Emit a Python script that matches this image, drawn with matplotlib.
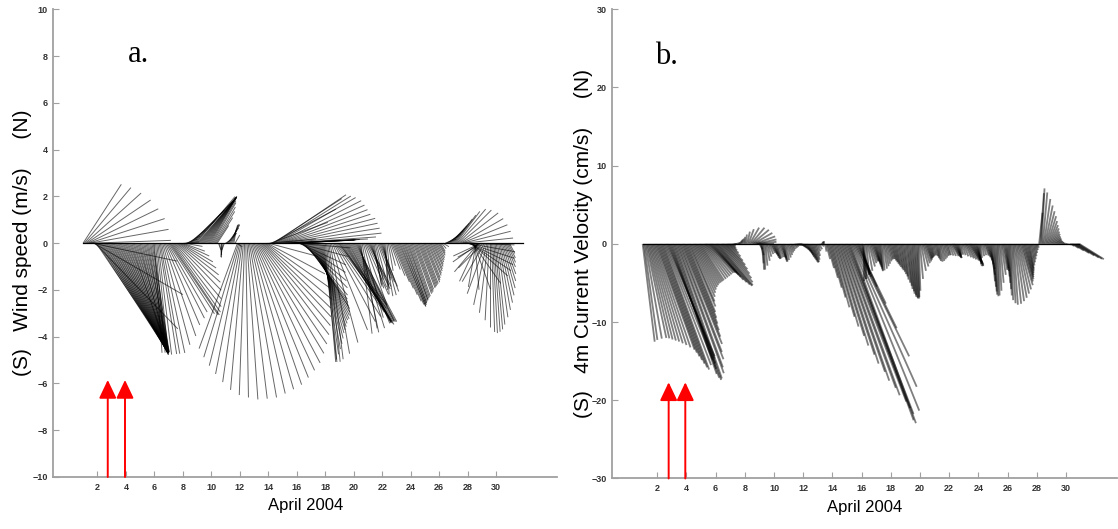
import numpy as np
import matplotlib
matplotlib.use("Agg")
import matplotlib.pyplot as plt
from matplotlib.collections import LineCollection

# two-hourly records, one row per day, 1-30 April 2004
# direction = where the vector points, degrees counter-clockwise from east

wind_speed = [  # m/s
    [3.0, 3.1, 3.2, 3.3, 3.35, 3.4, 3.4, 3.4, 3.7, 4.4, 5.1, 5.6],
    [5.6, 5.5, 5.5, 5.5, 5.4, 5.4, 5.4, 5.4, 5.3, 5.3, 5.3, 5.3],
    [5.2, 5.1, 5.3, 5.2, 5.0, 5.1, 5.2, 4.9, 5.1, 5.0, 4.8, 5.0],
    [5.0, 4.9, 5.0, 4.9, 4.9, 4.8, 4.9, 4.9, 4.8, 4.9, 4.8, 4.8],
    [4.8, 4.8, 4.8, 4.8, 4.7, 4.7, 4.7, 4.7, 4.7, 4.7, 4.7, 4.7],
    [4.7, 4.7, 4.8, 4.8, 4.8, 4.8, 4.8, 4.5, 4.2, 3.8, 3.6, 3.4],
    [3.6, 3.7, 3.7, 3.6, 3.4, 3.1, 2.8, 2.5, 2.2, 1.9, 1.6, 1.3],
    [1.0, 0.8, 0.6, 0.5, 0.6, 0.9, 1.4, 2.0, 2.5, 2.7, 2.7, 2.6],
    [2.5, 2.5, 2.5, 2.5, 2.4, 2.4, 2.4, 2.3, 2.3, 2.3, 2.3, 2.2],
    [2.1, 2.0, 1.8, 1.6, 1.3, 0.9, 0.3, 0.5, 0.6, 0.6, 0.5, 0.3],
    [0.3, 0.6, 0.8, 0.9, 0.9, 0.85, 0.8, 0.6, 0.4, 0.3, 4.8, 5.1],
    [5.4, 5.7, 6.0, 6.3, 6.5, 6.6, 6.7, 6.7, 6.7, 6.6, 6.5, 6.4],
    [6.2, 6.0, 5.8, 5.5, 5.2, 4.9, 4.6, 4.3, 4.0, 3.7, 3.3, 2.8],
    [2.2, 2.0, 2.6, 3.1, 3.5, 3.7, 3.8, 3.9, 4.0, 4.0, 4.0, 4.0],
    [4.1, 4.1, 4.1, 4.1, 3.8, 3.4, 3.0, 2.8, 2.7, 2.6, 2.6, 2.5],
    [2.3, 2.2, 2.2, 2.3, 2.5, 2.7, 2.9, 3.0, 3.1, 3.2, 3.3, 3.4],
    [3.5, 3.6, 3.6, 3.7, 3.8, 3.9, 4.0, 4.2, 4.4, 4.6, 4.8, 5.0],
    [5.1, 5.1, 5.1, 5.0, 4.8, 4.4, 4.0, 3.8, 3.7, 3.6, 3.5, 3.4],
    [3.6, 3.8, 4.0, 4.1, 4.0, 3.9, 3.9, 3.8, 3.8, 3.8, 3.8, 3.8],
    [3.8, 3.8, 3.7, 3.7, 3.8, 3.9, 3.9, 3.7, 3.3, 2.8, 2.4, 2.2],
    [2.1, 2.0, 2.0, 2.0, 1.9, 1.8, 1.6, 1.5, 1.6, 1.8, 2.0, 2.2],
    [2.3, 2.3, 2.2, 2.0, 1.6, 1.2, 1.0, 1.2, 1.5, 1.8, 2.1, 2.4],
    [2.7, 2.85, 2.95, 2.9, 2.85, 2.8, 2.75, 2.7, 2.65, 2.6, 2.55, 2.5],
    [2.45, 2.4, 2.3, 2.25, 2.2, 2.1, 2.05, 2.0, 1.95, 1.9, 1.85, 1.8],
    [1.7, 1.6, 1.5, 1.4, 1.3, 1.2, 1.1, 1.0, 0.9, 0.8, 0.7, 0.6],
    [0.5, 0.4, 0.3, 0.3, 0.4, 0.5, 0.6, 0.7, 0.8, 0.9, 1.0, 1.1],
    [1.3, 1.5, 1.7, 1.9, 2.0, 2.1, 2.1, 2.1, 2.1, 2.1, 2.1, 2.1],
    [2.1, 2.1, 2.1, 2.1, 2.1, 2.1, 2.0, 1.9, 1.8, 1.6, 1.4, 1.3],
    [1.2, 1.5, 1.9, 2.3, 2.7, 3.0, 3.3, 3.6, 3.8, 3.85, 3.8, 3.7],
    [3.5, 3.2, 2.9, 2.6, 2.3, 2.0, 1.7, 1.4, 1.1, 0.9, 0.7, 0.5],
]
wind_dir = [
    [57, 50, 42, 34, 26, 18, 10, 2, -12, -30, -46, -56],
    [-57, -57, -58, -58, -59, -59, -60, -60, -61, -61, -62, -62],
    [-63, -63, -64, -64, -65, -65, -66, -66, -67, -67, -68, -68],
    [-69, -69, -70, -70, -71, -72, -72, -73, -73, -74, -74, -75],
    [-76, -76, -77, -77, -78, -78, -79, -80, -80, -81, -81, -82],
    [-86, -85, -84, -83, -81, -80, -78, -75, -71, -67, -63, -60],
    [-57, -56, -56, -55, -53, -50, -46, -42, -38, -34, -30, -25],
    [-20, -10, 5, 20, 30, 38, 42, 45, 46, 47, 48, 50],
    [49, 50, 51, 52, 53, 54, 55, 56, 57, 58, 59, 60],
    [60, 60, 59, 58, 57, 57, -70, -80, -90, -95, -100, -110],
    [30, 45, 55, 60, 65, 70, 75, 80, 60, -30, -110, -107],
    [-104, -101, -98, -95, -92, -89, -86, -83, -80, -77, -74, -71],
    [-68, -65, -62, -59, -56, -53, -50, -47, -44, -40, -35, -28],
    [-15, 5, 20, 28, 33, 34, 32, 30, 27, 24, 21, 18],
    [15, 12, 9, 6, 4, 3, 3, 3, 3, 3, 3, 3],
    [-5, -15, -25, -33, -40, -45, -50, -53, -55, -57, -58, -60],
    [-62, -64, -66, -68, -70, -72, -74, -76, -78, -80, -82, -84],
    [-85, -85, -84, -83, -80, -75, -68, -62, -58, -55, -53, -52],
    [-56, -57, -58, -58, -59, -60, -61, -61, -62, -62, -62, -62],
    [-62, -62, -64, -68, -73, -78, -83, -80, -75, -70, -66, -63],
    [-62, -65, -70, -75, -78, -80, -78, -75, -70, -68, -68, -70],
    [-75, -80, -85, -88, -85, -80, -75, -70, -68, -67, -67, -67],
    [-67, -67, -67, -68, -68, -69, -69, -70, -70, -70, -71, -71],
    [-71, -71, -70, -70, -70, -70, -69, -69, -69, -69, -69, -68],
    [-68, -68, -67, -67, -66, -66, -65, -65, -64, -63, -62, -60],
    [-60, -60, -50, -30, 0, 20, 30, 35, 40, 45, 48, 50],
    [52, 53, 53, 50, 45, 38, 30, 22, 14, 6, -2, -10],
    [-18, -26, -34, -42, -55, -70, -85, -100, -115, -130, -145, -155],
    [-150, -135, -120, -110, -102, -97, -93, -90, -88, -87, -86, -85],
    [-84, -82, -80, -78, -76, -74, -72, -70, -68, -66, -64, -62],
]

current_speed = [  # cm/s at 4 m
    [12.6, 12.4, 12.3, 12.3, 12.4, 12.6, 12.8, 13.0, 13.3, 13.6, 14.0, 14.4],
    [14.8, 15.3, 15.8, 16.3, 16.8, 17.1, 16.6, 16.0, 15.6, 15.8, 16.4, 17.0],
    [17.6, 18.1, 18.4, 18.2, 17.6, 16.8, 15.8, 14.8, 13.8, 12.8, 11.9, 11.0],
    [10.2, 9.4, 8.7, 8.0, 7.4, 6.9, 6.5, 6.2, 6.0, 5.8, 5.7, 5.6],
    [5.5, 5.4, 5.3, 5.2, 5.1, 5.0, 5.0, 5.1, 5.3, 5.6, 6.0, 6.4],
    [6.8, 7.0, 6.9, 6.5, 5.9, 5.2, 4.5, 3.8, 3.1, 2.4, 1.8, 1.3],
    [0.9, 0.6, 0.4, 0.3, 0.3, 0.3, 0.3, 0.3, 0.4, 0.5, 0.6, 0.7],
    [0.9, 1.2, 1.6, 2.0, 2.4, 2.7, 2.8, 2.8, 2.8, 2.7, 2.5, 2.0],
    [0.8, 1.5, 2.5, 3.3, 3.3, 2.8, 2.2, 1.7, 1.4, 1.3, 1.5, 1.7],
    [1.9, 2.0, 2.0, 1.9, 1.8, 1.8, 1.9, 2.1, 2.3, 2.3, 2.1, 1.8],
    [1.5, 1.2, 1.0, 0.8, 0.7, 0.6, 0.5, 0.5, 0.5, 0.6, 0.7, 0.8],
    [1.0, 1.2, 1.4, 1.6, 1.8, 2.0, 2.2, 2.4, 2.5, 2.4, 2.1, 1.6],
    [1.0, 0.8, 0.6, 0.4, 0.3, 0.4, 1.0, 2.0, 3.2, 4.5, 5.8, 7.1],
    [8.4, 9.7, 11.0, 12.3, 13.6, 14.9, 16.1, 17.3, 18.5, 19.6, 20.6, 21.6],
    [22.5, 23.3, 24.0, 24.4, 23.0, 20.0, 16.0, 12.0, 8.5, 6.0, 4.5, 4.0],
    [4.0, 4.5, 4.7, 4.5, 4.0, 3.5, 3.0, 2.6, 2.4, 2.3, 2.4, 2.6],
    [2.8, 3.0, 3.2, 3.4, 3.5, 3.4, 3.2, 2.9, 2.6, 2.3, 2.1, 2.0],
    [2.0, 2.2, 2.4, 2.6, 2.8, 3.0, 3.2, 3.4, 3.6, 3.9, 4.2, 4.6],
    [5.0, 5.4, 5.8, 6.1, 6.4, 6.6, 6.8, 6.9, 7.0, 7.0, 6.8, 6.0],
    [4.5, 3.5, 3.0, 2.6, 2.4, 2.2, 2.0, 1.9, 1.8, 1.7, 1.6, 1.5],
    [1.5, 1.6, 1.8, 2.0, 2.2, 2.3, 2.2, 2.0, 1.8, 1.6, 1.5, 1.5],
    [1.6, 1.7, 1.8, 1.9, 2.0, 2.0, 1.9, 1.7, 1.5, 1.4, 1.4, 1.5],
    [1.7, 1.9, 2.1, 2.3, 2.5, 2.6, 2.7, 2.8, 2.9, 3.0, 3.0, 2.9],
    [2.6, 2.2, 1.8, 1.6, 1.5, 1.6, 1.8, 2.2, 2.7, 3.3, 4.0, 4.8],
    [5.5, 6.1, 6.5, 6.7, 6.6, 6.0, 5.0, 4.0, 3.4, 3.2, 3.5, 4.2],
    [5.0, 5.8, 6.6, 7.2, 7.6, 7.8, 7.7, 7.4, 7.0, 6.5, 6.0, 5.5],
    [5.0, 4.7, 4.4, 4.1, 3.8, 3.5, 3.2, 2.8, 2.4, 2.0, 1.6, 1.2],
    [0.8, 0.5, 4.0, 6.5, 7.1, 6.6, 5.8, 5.0, 4.3, 3.7, 3.1, 2.6],
    [2.2, 1.8, 1.5, 1.2, 1.0, 0.8, 0.6, 0.5, 0.4, 0.3, 0.2, 0.2],
    [0.1, 0.1, 0.1, 0.2, 0.5, 1.0, 1.6, 2.2, 2.8, 3.3, 3.6, 3.7],
]
current_dir = [
    [-83, -82, -80, -78, -77, -76, -75, -74, -73, -72, -71, -70],
    [-70, -70, -70, -70, -70, -70, -69, -68, -67, -68, -69, -70],
    [-71, -71, -71, -71, -70, -70, -69, -69, -68, -68, -68, -68],
    [-68, -68, -67, -67, -66, -65, -64, -63, -62, -61, -60, -59],
    [-58, -56, -54, -52, -50, -48, -47, -47, -48, -49, -50, -50],
    [-50, -50, -50, -49, -48, -47, -46, -45, -44, -42, -40, -38],
    [-35, -30, -20, -10, 0, 10, 20, 40, 60, 75, 85, 88],
    [88, 85, 78, 70, 60, 50, 40, 30, 20, 12, 6, 0],
    [-60, -75, -85, -88, -88, -85, -80, -75, -68, -62, -62, -65],
    [-70, -72, -75, -75, -72, -70, -72, -76, -80, -82, -80, -76],
    [-72, -68, -64, -60, -50, -40, -30, -20, -15, -20, -30, -40],
    [-45, -50, -55, -60, -65, -68, -70, -72, -74, -75, -75, -74],
    [-70, -60, -30, 30, 80, 90, -80, -76, -75, -75, -75, -75],
    [-75, -74, -74, -73, -73, -72, -72, -71, -71, -70, -70, -69],
    [-69, -69, -70, -70, -68, -66, -64, -64, -64, -66, -70, -72],
    [-75, -85, -90, -88, -85, -80, -75, -72, -70, -70, -72, -75],
    [-78, -80, -82, -84, -86, -85, -82, -80, -78, -76, -75, -75],
    [-75, -76, -77, -78, -79, -80, -80, -81, -81, -82, -82, -83],
    [-83, -83, -84, -84, -85, -85, -86, -86, -87, -87, -88, -88],
    [-85, -80, -75, -72, -70, -70, -72, -74, -76, -78, -80, -80],
    [-80, -80, -82, -84, -85, -84, -82, -80, -78, -76, -75, -75],
    [-70, -65, -60, -60, -62, -65, -70, -75, -80, -82, -80, -75],
    [-70, -65, -62, -60, -58, -58, -60, -62, -65, -68, -72, -78],
    [-82, -85, -85, -80, -75, -70, -70, -72, -75, -78, -82, -85],
    [-86, -87, -88, -88, -88, -87, -85, -82, -80, -80, -82, -84],
    [-86, -87, -88, -88, -87, -86, -84, -82, -80, -78, -76, -74],
    [-74, -74, -75, -76, -77, -78, -80, -80, -80, -80, -80, -80],
    [-80, -80, 84, 86, 87, 85, 82, 79, 76, 73, 70, 67],
    [64, 61, 58, 55, 52, 50, 48, 45, 40, 30, 20, 10],
    [0, -10, -20, -30, -32, -32, -32, -32, -32, -32, -32, -32],
]

day_ticks = list(range(2, 31, 2))
wind_ticks = list(range(-10, 11, 2))
current_ticks = list(range(-30, 31, 10))

# red markers for the two events
wind_events = [2.73, 3.94]
wind_event_top = -5.85
current_events = [2.78, 3.92]
current_event_top = -17.7

spine_col = "#a0a0a0"
label_col = "#333333"


def stickplot(ax, speed, direction, lw, alpha, base_end):
    s = np.asarray(speed, float).ravel()
    d = np.deg2rad(np.asarray(direction, float).ravel())
    t = 1 + np.arange(s.size) / 12.0
    # keep sticks true to length/angle on screen
    bb = ax.get_window_extent()
    x0, x1 = ax.get_xlim()
    y0, y1 = ax.get_ylim()
    k = (bb.height / (y1 - y0)) / (bb.width / (x1 - x0))
    u = s * np.cos(d) * k
    v = s * np.sin(d)
    segs = np.stack([np.column_stack([t, np.zeros_like(t)]),
                     np.column_stack([t + u, v])], axis=1)
    ax.add_collection(LineCollection(segs, colors="k", linewidths=lw, alpha=alpha))
    ax.plot([t[0], base_end], [0, 0], color="k", lw=0.9)


def style(ax, xlim, ylim, yticks):
    ax.set_xlim(*xlim)
    ax.set_ylim(*ylim)
    ax.set_xticks(day_ticks)
    ax.set_yticks(yticks)
    for side in ("top", "right"):
        ax.spines[side].set_visible(False)
    for side in ("left", "bottom"):
        ax.spines[side].set_color(spine_col)
        ax.spines[side].set_linewidth(1.3)
    ax.tick_params(direction="in", length=4, width=0.8, color=spine_col,
                   labelsize=6.5, labelcolor=label_col, pad=4)
    for lab in ax.get_xticklabels() + ax.get_yticklabels():
        lab.set_fontweight("bold")


def events(ax, days, top, bottom):
    for d in days:
        ax.annotate("", xy=(d, top), xytext=(d, bottom),
                    arrowprops=dict(arrowstyle="-|>,head_length=0.8,head_width=0.38",
                                    color="red", lw=1.4, mutation_scale=14,
                                    shrinkA=0, shrinkB=0))


plt.rcParams["font.family"] = ["Liberation Sans", "DejaVu Sans"]
fig = plt.figure(figsize=(11.18, 5.29), dpi=100)

ax1 = fig.add_axes([0.0477, 0.0983, 0.4505, 0.8841])
style(ax1, (-1.09, 34.26), (-10, 10), wind_ticks)
stickplot(ax1, wind_speed, wind_dir, lw=0.7, alpha=0.6, base_end=31.9)
events(ax1, wind_events, wind_event_top, -10)
ax1.set_ylabel("(S)   Wind speed (m/s)     (N)", fontsize=15)
ax1.yaxis.set_label_coords(-0.042, 0.5)
ax1.set_xlabel("April 2004", fontsize=12)
ax1.xaxis.set_label_coords(0.5, -0.045)
fig.text(128 / 1118, 1 - 62 / 529, "a.", family="Liberation Serif", fontsize=22)

ax2 = fig.add_axes([0.5477, 0.0955, 0.4514, 0.887])
style(ax2, (-1.08, 33.5), (-30, 30), current_ticks)
stickplot(ax2, current_speed, current_dir, lw=1.3, alpha=0.5, base_end=30.92)
events(ax2, current_events, current_event_top, -30)
ax2.set_ylabel("(S)   4m Current Velocity (cm/s)     (N)", fontsize=15)
ax2.yaxis.set_label_coords(-0.039, 0.5)
ax2.set_xlabel("April 2004", fontsize=12)
ax2.xaxis.set_label_coords(0.5, -0.045)
fig.text(655 / 1118, 1 - 64 / 529, "b.", family="Liberation Serif", fontsize=22)

fig.savefig("out.png", dpi=100)
